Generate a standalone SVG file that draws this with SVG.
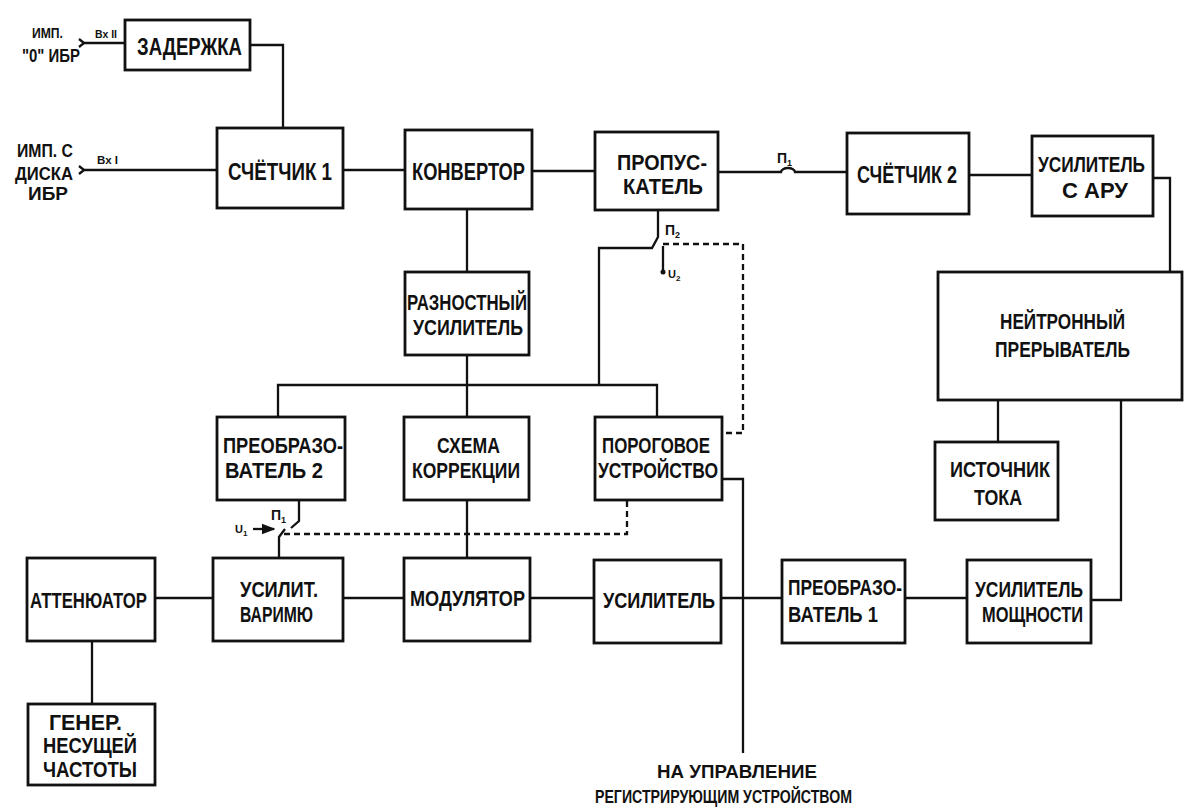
<svg xmlns="http://www.w3.org/2000/svg" width="1192" height="811" viewBox="0 0 1192 811">
<defs>
<style>
.b{fill:none;stroke:#111;stroke-width:2.8}
.w{fill:none;stroke:#111;stroke-width:2.3}
.d{fill:none;stroke:#111;stroke-width:2.3;stroke-dasharray:6 4}
text{font-family:"Liberation Sans",Arial,sans-serif;font-size:22px;font-weight:bold;fill:#111}
.t{font-size:24px}
.s{font-size:10px}
.m{font-size:18px}
.l{font-size:14px}
.u{font-size:11px}
</style>
<marker id="ah" viewBox="0 0 10 10" refX="9" refY="5" markerWidth="6" markerHeight="6" orient="auto"><path d="M0,1 L10,5 L0,9 z" fill="#111"/></marker>
</defs>
<rect x="0" y="0" width="1192" height="811" fill="#fff"/>

<g id="connectors">
<path class="w" d="M83,43 H125"/>
<path class="w" d="M79,39 L84,43 L79,47"/>
<path class="w" d="M250,45 H283 V128"/>
<path class="w" d="M83,170 H217"/>
<path class="w" d="M79,166 L84,170 L79,174"/>
<path class="w" d="M343,170 H405"/>
<path class="w" d="M532,171 H595"/>
<path class="w" d="M718,172 H781 A7,4 0 0 1 795,172 H847"/>
<path class="w" d="M969,175 H1032"/>
<path class="w" d="M1153,178 H1170 V272"/>
<path class="w" d="M467,209 V272"/>
<path class="w" d="M467,355 V417"/>
<path class="w" d="M278,417 V385 H657 V417"/>
<path class="w" d="M658,210 V237 L652,248 H599 V385"/>
<path class="w" d="M663,246 V272"/>
<circle cx="663" cy="272" r="2.5" fill="#111"/>
<path class="d" d="M663,244 H743 V433 H722"/>
<path class="w" d="M722,479 H743 V753"/>
<path class="w" d="M299,500 V521 L291,528"/>
<path class="w" d="M279,558 V537 L285,529"/>
<path class="w" d="M253,529 H274" marker-end="url(#ah)"/>
<path class="d" d="M284,534 H627 V500"/>
<path class="w" d="M467,500 V558"/>
<path class="w" d="M155,598 H213"/>
<path class="w" d="M343,598 H404"/>
<path class="w" d="M530,598 H594"/>
<path class="w" d="M721,598 H782"/>
<path class="w" d="M905,598 H967"/>
<path class="w" d="M92,641 V704"/>
<path class="w" d="M998,400 V442"/>
<path class="w" d="M1121,400 V600 H1091"/>
</g>

<g id="labels">
<text class="l" x="32" y="38" textLength="31" lengthAdjust="spacingAndGlyphs">ИМП.</text>
<text class="m" x="22" y="62" textLength="58" lengthAdjust="spacingAndGlyphs">"0" ИБР</text>
<text class="s" x="95" y="38" textLength="22" lengthAdjust="spacingAndGlyphs">Вх II</text>
<text class="m" x="17" y="157" textLength="56" lengthAdjust="spacingAndGlyphs">ИМП. С</text>
<text class="m" x="15" y="180" textLength="58" lengthAdjust="spacingAndGlyphs">ДИСКА</text>
<text class="m" x="28" y="200" textLength="40" lengthAdjust="spacingAndGlyphs">ИБР</text>
<text class="s" x="97" y="164" textLength="21" lengthAdjust="spacingAndGlyphs">Вх I</text>
<text class="l" x="777" y="163">П<tspan font-size="9" dy="3">1</tspan></text>
<text class="l" x="665" y="235">П<tspan font-size="9" dy="3">2</tspan></text>
<text class="u" x="668" y="278">U<tspan font-size="8" dy="3">2</tspan></text>
<text class="l" x="271" y="520">П<tspan font-size="9" dy="3">1</tspan></text>
<text class="u" x="235" y="533">U<tspan font-size="8" dy="3">1</tspan></text>
<text class="m" x="657" y="778" textLength="160" lengthAdjust="spacingAndGlyphs">НА УПРАВЛЕНИЕ</text>
<text class="m" x="595" y="803" textLength="257" lengthAdjust="spacingAndGlyphs">РЕГИСТРИРУЮЩИМ УСТРОЙСТВОМ</text>
</g>

<g id="zaderzhka"><rect class="b" x="125" y="20" width="125" height="50"/>
<text class="t" x="137" y="55" textLength="105" lengthAdjust="spacingAndGlyphs">ЗАДЕРЖКА</text></g>
<g id="schetchik1"><rect class="b" x="217" y="128" width="126" height="80"/>
<text class="t" x="228" y="180" textLength="104" lengthAdjust="spacingAndGlyphs">СЧЁТЧИК 1</text></g>
<g id="konvertor"><rect class="b" x="405" y="130" width="127" height="79"/>
<text class="t" x="412" y="180" textLength="113" lengthAdjust="spacingAndGlyphs">КОНВЕРТОР</text></g>
<g id="propuskatel"><rect class="b" x="595" y="132" width="123" height="78"/>
<text x="617" y="170" textLength="90" lengthAdjust="spacingAndGlyphs">ПРОПУС-</text>
<text x="623" y="194" textLength="80" lengthAdjust="spacingAndGlyphs">КАТЕЛЬ</text></g>
<g id="schetchik2"><rect class="b" x="847" y="133" width="122" height="81"/>
<text class="t" x="857" y="183" textLength="100" lengthAdjust="spacingAndGlyphs">СЧЁТЧИК 2</text></g>
<g id="usilitel-aru"><rect class="b" x="1032" y="136" width="121" height="80"/>
<text x="1038" y="172" textLength="107" lengthAdjust="spacingAndGlyphs">УСИЛИТЕЛЬ</text>
<text x="1062" y="198" textLength="66" lengthAdjust="spacingAndGlyphs">С АРУ</text></g>
<g id="raznostny"><rect class="b" x="405" y="272" width="124" height="83"/>
<text x="407" y="310" textLength="120" lengthAdjust="spacingAndGlyphs">РАЗНОСТНЫЙ</text>
<text x="413" y="335" textLength="110" lengthAdjust="spacingAndGlyphs">УСИЛИТЕЛЬ</text></g>
<g id="neitronny"><rect class="b" x="938" y="272" width="244" height="128"/>
<text x="1000" y="329" textLength="125" lengthAdjust="spacingAndGlyphs">НЕЙТРОННЫЙ</text>
<text x="995" y="357" textLength="135" lengthAdjust="spacingAndGlyphs">ПРЕРЫВАТЕЛЬ</text></g>
<g id="preobr2"><rect class="b" x="217" y="417" width="128" height="83"/>
<text x="223" y="453" textLength="120" lengthAdjust="spacingAndGlyphs">ПРЕОБРАЗО-</text>
<text x="225" y="478" textLength="98" lengthAdjust="spacingAndGlyphs">ВАТЕЛЬ 2</text></g>
<g id="schema"><rect class="b" x="404" y="417" width="125" height="83"/>
<text x="437" y="453" textLength="63" lengthAdjust="spacingAndGlyphs">СХЕМА</text>
<text x="412" y="478" textLength="108" lengthAdjust="spacingAndGlyphs">КОРРЕКЦИИ</text></g>
<g id="porog"><rect class="b" x="595" y="417" width="127" height="83"/>
<text x="602" y="453" textLength="108" lengthAdjust="spacingAndGlyphs">ПОРОГОВОЕ</text>
<text x="598" y="478" textLength="120" lengthAdjust="spacingAndGlyphs">УСТРОЙСТВО</text></g>
<g id="istochnik"><rect class="b" x="935" y="442" width="123" height="78"/>
<text x="950" y="477" textLength="100" lengthAdjust="spacingAndGlyphs">ИСТОЧНИК</text>
<text x="974" y="505" textLength="48" lengthAdjust="spacingAndGlyphs">ТОКА</text></g>
<g id="attenuator"><rect class="b" x="27" y="558" width="128" height="83"/>
<text x="30" y="608" textLength="117" lengthAdjust="spacingAndGlyphs">АТТЕНЮАТОР</text></g>
<g id="usilit-varimu"><rect class="b" x="213" y="558" width="130" height="83"/>
<text x="240" y="597" textLength="78" lengthAdjust="spacingAndGlyphs">УСИЛИТ.</text>
<text x="240" y="622" textLength="73" lengthAdjust="spacingAndGlyphs">ВАРИМЮ</text></g>
<g id="modulyator"><rect class="b" x="404" y="558" width="126" height="83"/>
<text x="410" y="606" textLength="115" lengthAdjust="spacingAndGlyphs">МОДУЛЯТОР</text></g>
<g id="usilitel"><rect class="b" x="594" y="560" width="127" height="83"/>
<text x="603" y="608" textLength="112" lengthAdjust="spacingAndGlyphs">УСИЛИТЕЛЬ</text></g>
<g id="preobr1"><rect class="b" x="782" y="560" width="123" height="83"/>
<text x="788" y="595" textLength="114" lengthAdjust="spacingAndGlyphs">ПРЕОБРАЗО-</text>
<text x="788" y="622" textLength="90" lengthAdjust="spacingAndGlyphs">ВАТЕЛЬ 1</text></g>
<g id="usilitel-moshnosti"><rect class="b" x="967" y="560" width="124" height="83"/>
<text x="975" y="597" textLength="108" lengthAdjust="spacingAndGlyphs">УСИЛИТЕЛЬ</text>
<text x="982" y="622" textLength="101" lengthAdjust="spacingAndGlyphs">МОЩНОСТИ</text></g>
<g id="generator"><rect class="b" x="28" y="704" width="127" height="81"/>
<text x="49" y="730" textLength="73" lengthAdjust="spacingAndGlyphs">ГЕНЕР.</text>
<text x="43" y="753" textLength="94" lengthAdjust="spacingAndGlyphs">НЕСУЩЕЙ</text>
<text x="43" y="777" textLength="94" lengthAdjust="spacingAndGlyphs">ЧАСТОТЫ</text></g>
</svg>
